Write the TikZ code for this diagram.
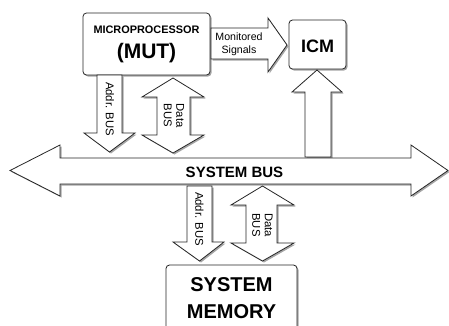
\documentclass[tikz,border=0pt]{standalone}
\usepackage{fontspec}
\setmainfont{Liberation Sans}
\usetikzlibrary{shadows}
\begin{document}
\begin{tikzpicture}[x=1pt,y=-1pt,
  shp/.style={draw=black!85, line width=0.8pt, fill=white, line join=miter,
    drop shadow={shadow xshift=1.5pt, shadow yshift=-1.5pt, fill=black!50, opacity=0.7}},
  box/.style={shp, rounded corners=3.5pt, inner sep=0pt},
  lbl/.style={font=\fontsize{10.6}{12}\selectfont, inner sep=0pt, text=black},
  vlbl/.style={inner sep=0pt, text=black, rotate=-90, align=center, font=\fontsize{11.3}{12.5}\selectfont},
  bigb/.style={font=\bfseries, inner sep=0pt, text=black}]
\useasboundingbox (0,0) rectangle (449,325);
\clip (0,0) rectangle (449,325);

% boxes
\node[box, minimum width=127pt, minimum height=62pt] (mut) at (146.5,44) {};
\node[box, minimum width=57pt, minimum height=49pt] (icm) at (317.5,44.5) {};
\node[box, minimum width=131pt, minimum height=80pt] (mem) at (231.5,305) {};

\node[bigb, anchor=base, font=\bfseries\fontsize{10.9}{12}\selectfont] (mp) at (146.5,33.5) {MICROPROCESSOR};
\node[bigb, anchor=base, font=\bfseries\fontsize{21}{24}\selectfont] (mutt) at (146.5,58) {(MUT)};
\node[bigb, anchor=base, font=\bfseries\fontsize{18}{20}\selectfont] (icmt) at (317.5,52) {ICM};
\node[bigb, anchor=base, font=\bfseries\fontsize{20}{22}\selectfont] (memt1) at (231.5,291) {SYSTEM};
\node[bigb, anchor=base, font=\bfseries\fontsize{20}{22}\selectfont] (memt2) at (231.5,318) {MEMORY};

% monitored signals arrow
\draw[shp] (211,28) -- (268,28) -- (268,18) -- (287,45) -- (268,72) -- (268,59) -- (211,59) -- cycle;
\node[lbl, anchor=base] (mon1) at (239,40) {Monitored};
\node[lbl, anchor=base] (mon2) at (239,53) {Signals};

% ICM up arrow
\draw[shp] (305,157) -- (305,92) -- (292,92) -- (317,70) -- (342,92) -- (331,92) -- (331,157) -- cycle;

% system bus
\draw[shp] (60,158) -- (411,158) -- (411,145) -- (448,170.5) -- (411,196) -- (411,184) -- (60,184) -- (60,196) -- (10,170.5) -- (60,145) -- cycle;
\node[bigb, anchor=base, font=\bfseries\fontsize{15}{18}\selectfont] (sb) at (234.5,177) {SYSTEM BUS};

% upper addr bus
\draw[shp] (97,75) -- (122,75) -- (122,133) -- (135,133) -- (109.5,152) -- (84,133) -- (97,133) -- cycle;
\node[vlbl] (a1) at (110,109) {Addr. BUS};

% upper data bus
\draw[shp] (173,78) -- (204,97) -- (190,97) -- (190,135) -- (204,135) -- (173,153) -- (142,135) -- (157,135) -- (157,97) -- (142,97) -- cycle;
\node[vlbl] (d1) at (174,115.5) {Data\\BUS};

% lower addr bus
\draw[shp] (187,186) -- (212,186) -- (212,242) -- (224,242) -- (199.5,261) -- (173,242) -- (187,242) -- cycle;
\node[vlbl] (a2) at (199.5,219) {Addr. BUS};

% lower data bus
\draw[shp] (262.5,186) -- (294,205) -- (277,205) -- (277,243) -- (294,243) -- (262.5,261) -- (231,243) -- (246,243) -- (246,205) -- (231,205) -- cycle;
\node[vlbl] (d2) at (262.5,225) {Data\\BUS};
\end{tikzpicture}
\end{document}
